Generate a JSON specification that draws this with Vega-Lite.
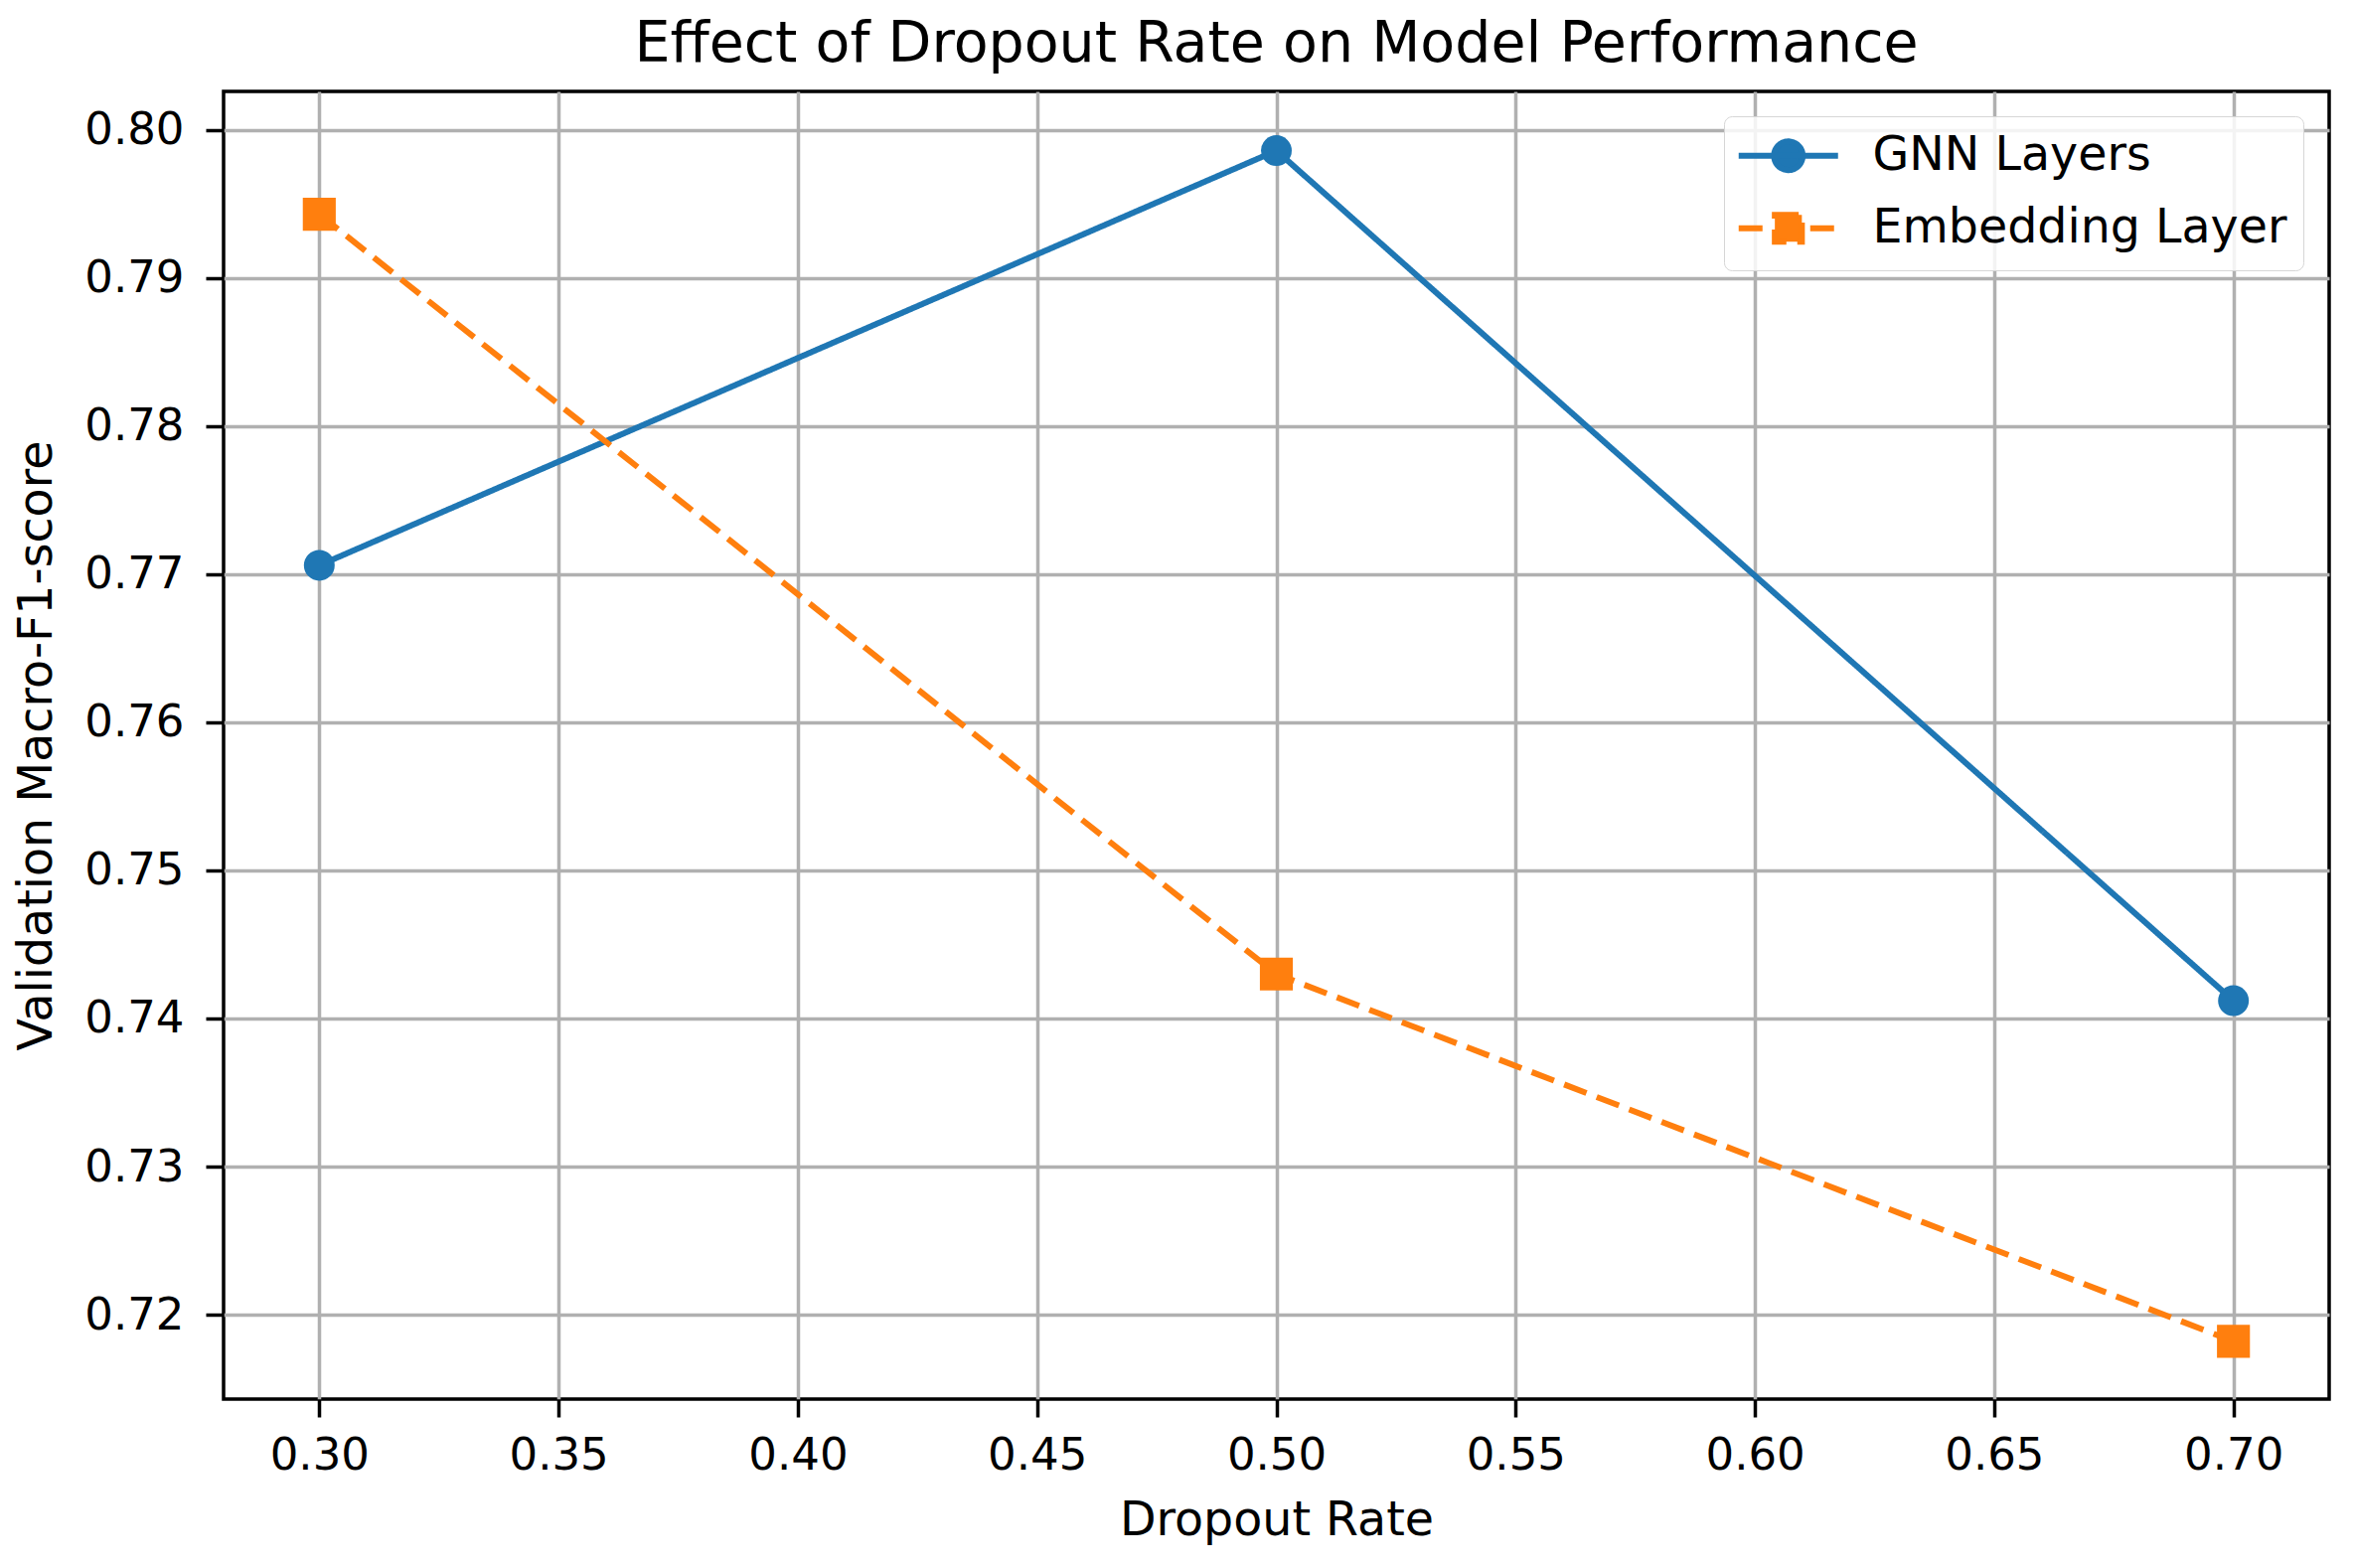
{
  "$schema": "https://vega.github.io/schema/vega-lite/v6.json",
  "width": 2119,
  "height": 1316,
  "autosize": "none",
  "padding": {"left": 225, "top": 92, "right": 25, "bottom": 170},
  "background": "white",
  "config": {
    "font": "DejaVu Sans",
    "view": {"stroke": "black", "strokeWidth": 3.5},
    "axis": {
      "domain": false,
      "grid": true,
      "gridColor": "#b0b0b0",
      "gridWidth": 3.5,
      "tickColor": "black",
      "tickWidth": 3.5,
      "tickSize": 18,
      "labelFontSize": 45,
      "labelColor": "black",
      "labelFont": "DejaVu Sans",
      "titleFont": "DejaVu Sans",
      "titleFontSize": 47.5,
      "titleFontWeight": "normal",
      "titleColor": "black"
    },
    "legend": {
      "labelFont": "DejaVu Sans",
      "labelFontSize": 47.5,
      "labelColor": "black",
      "labelLimit": 0
    }
  },
  "title": {
    "text": "Effect of Dropout Rate on Model Performance",
    "font": "DejaVu Sans",
    "fontSize": 57,
    "fontWeight": "normal",
    "color": "black",
    "offset": 18
  },
  "data": {
    "values": [
      {"rate": 0.3, "score": 0.7706, "series": "GNN Layers"},
      {"rate": 0.5, "score": 0.7986, "series": "GNN Layers"},
      {"rate": 0.7, "score": 0.7412, "series": "GNN Layers"},
      {"rate": 0.3, "score": 0.7943, "series": "Embedding Layer"},
      {"rate": 0.5, "score": 0.7430, "series": "Embedding Layer"},
      {"rate": 0.7, "score": 0.7182, "series": "Embedding Layer"}
    ]
  },
  "layer": [
    {
      "mark": {"type": "line", "strokeWidth": 6},
      "encoding": {
        "x": {
          "field": "rate", "type": "quantitative",
          "scale": {"domain": [0.28, 0.72], "nice": false, "zero": false},
          "axis": {"values": [0.3, 0.35, 0.4, 0.45, 0.5, 0.55, 0.6, 0.65, 0.7], "format": ".2f", "labelPadding": 16, "title": "Dropout Rate", "titlePadding": 19, "labelFlush": false}
        },
        "y": {
          "field": "score", "type": "quantitative",
          "scale": {"domain": [0.7143, 0.8026], "nice": false, "zero": false},
          "axis": {"values": [0.72, 0.73, 0.74, 0.75, 0.76, 0.77, 0.78, 0.79, 0.8], "format": ".2f", "labelPadding": 22, "title": "Validation Macro-F1-score", "titlePadding": 23, "labelFlush": false}
        },
        "color": {
          "field": "series", "type": "nominal",
          "scale": {"domain": ["GNN Layers", "Embedding Layer"], "range": ["#1f77b4", "#ff7f0e"]},
          "legend": {
            "title": null,
            "orient": "none",
            "legendX": 1510,
            "legendY": 25,
            "padding": 16,
            "rowPadding": 20,
            "labelOffset": 86,
            "symbolSize": 1600,
            "strokeColor": "#d6d6d6",
            "fillColor": "rgba(255,255,255,0.85)",
            "cornerRadius": 8,
            "encode": {
              "symbols": {
                "update": {
                  "shape": {"signal": "datum.value === 'GNN Layers' ? 'M-1.25,0H3.75M1.97,0A0.72,0.72,0,1,1,0.53,0A0.72,0.72,0,1,1,1.97,0Z' : 'M-1.25,0H0M2.35,0H3.6M0.57,-0.68H1.93V0.68H0.57Z'"},
                  "fill": {"signal": "datum.value === 'GNN Layers' ? '#1f77b4' : '#ff7f0e'"},
                  "stroke": {"signal": "datum.value === 'GNN Layers' ? '#1f77b4' : '#ff7f0e'"},
                  "strokeWidth": {"value": 6},
                  "strokeDash": {"value": [1, 0]},
                  "size": {"value": 1600},
                  "opacity": {"value": 1}
                }
              }
            }
          }
        },
        "strokeDash": {
          "field": "series", "type": "nominal",
          "scale": {"domain": ["GNN Layers", "Embedding Layer"], "range": [[1, 0], [24, 11]]},
          "legend": null
        }
      }
    },
    {
      "transform": [{"filter": "datum.series === 'GNN Layers'"}],
      "mark": {"type": "point", "filled": true, "opacity": 1, "shape": "circle", "size": 960},
      "encoding": {
        "x": {"field": "rate", "type": "quantitative"},
        "y": {"field": "score", "type": "quantitative"},
        "color": {"field": "series", "type": "nominal"}
      }
    },
    {
      "transform": [{"filter": "datum.series === 'Embedding Layer'"}],
      "mark": {"type": "point", "filled": true, "opacity": 1, "shape": "square", "size": 1100},
      "encoding": {
        "x": {"field": "rate", "type": "quantitative"},
        "y": {"field": "score", "type": "quantitative"},
        "color": {"field": "series", "type": "nominal"}
      }
    }
  ]
}
